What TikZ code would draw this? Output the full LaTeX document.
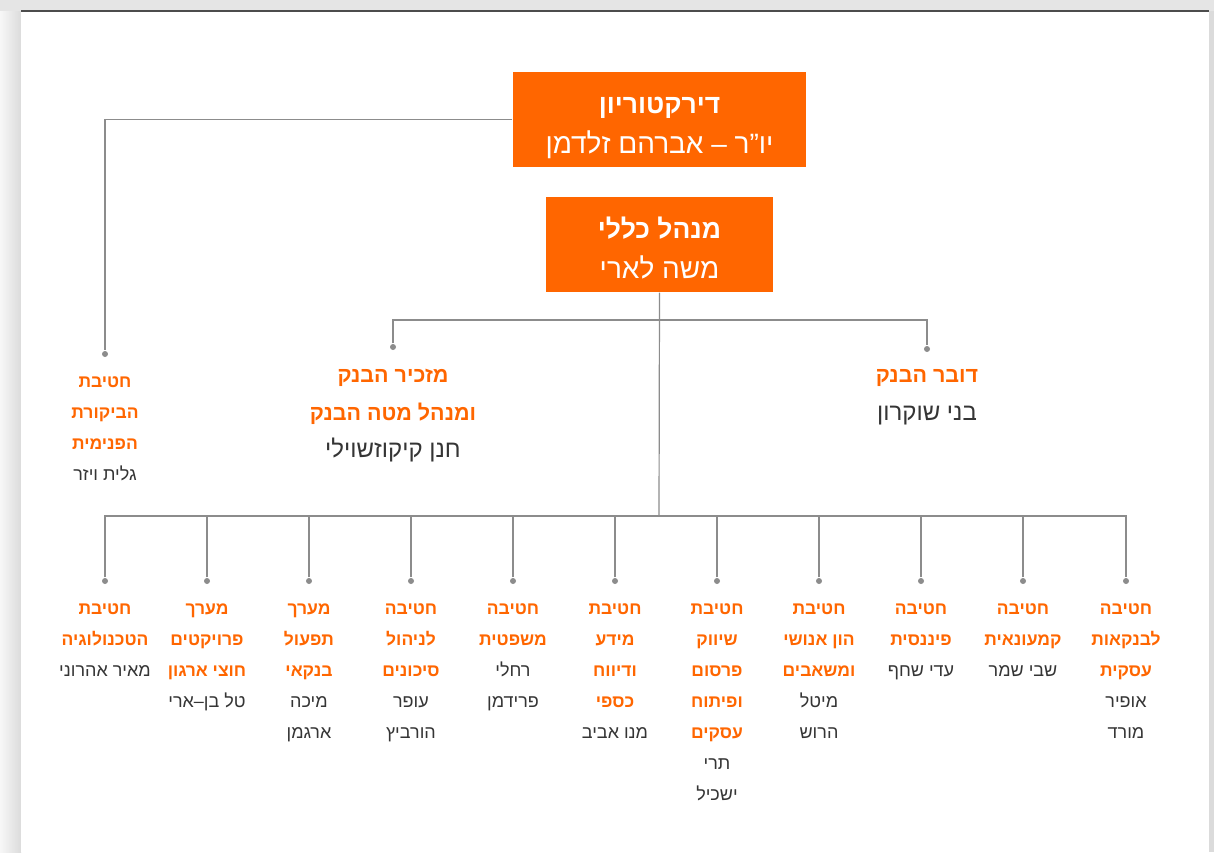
\documentclass[tikz,border=0pt]{standalone}
\usepackage{fontspec}
\usepackage{xcolor}
\usepackage{tikz}
\TeXXeTstate=1
\newfontfamily\hebfont[Script=Hebrew]{Liberation Sans}
\definecolor{bankorange}{HTML}{FF6600}
\definecolor{namegrey}{HTML}{353535}
\definecolor{linegrey}{HTML}{8C8C8C}
\newcommand{\heb}[1]{\beginR #1\endR}
\newcommand{\org}[1]{{\color{bankorange}\bfseries\strut\heb{#1}}}
\newcommand{\gry}[2][18]{{\color{namegrey}\fontsize{#1}{\baselineskip}\selectfont\strut\heb{#2}}}
\newcommand{\boxfont}{\hebfont\fontsize{26.5}{40}\selectfont}
\newcommand{\midfont}{\hebfont\fontsize{21.5}{37.5}\selectfont}
\newcommand{\unitfont}{\hebfont\fontsize{17.5}{31}\selectfont}
\newcommand{\unittop}{592.3}

\begin{document}
\begin{tikzpicture}[x=1pt,y=-1pt,line width=1.2pt]
			\useasboundingbox (0,0) rectangle (1214,852);
			% page
			\fill[black!10] (0,0) rectangle (1214,852);
			\shade[left color=black!3,right color=black!14] (0,11) rectangle (21,852);
			\fill[black!14] (1209,11) rectangle (1214,852);
			\fill[white] (21,11) rectangle (1209,852);
			\draw[line width=2pt,black!70] (21,10.5) -- (1209,10.5);
			\begin{scope}
			\tikzstyle{topbox}=[fill=bankorange,text=white,align=center,inner sep=0,minimum height=95,text depth=0pt,font=\boxfont]
			\tikzstyle{dot}=[circle,fill=linegrey,inner sep=0,minimum size=6]
			\tikzstyle{unit}=[align=center,anchor=north,inner sep=0,font=\unitfont]
			\tikzstyle{link}=[draw=linegrey]
			% top boxes
			\node[topbox,minimum width=293] (board) at (659.5,119.5) {\rule{0pt}{27pt}{\bfseries\heb{דירקטוריון}}\\{\fontsize{28}{40}\selectfont\heb{יו”ר – אברהם זלדמן}}};
			\node[topbox,minimum width=227] (ceo) at (659.5,244.5) {\rule{0pt}{27pt}{\bfseries\heb{מנהל כללי}}\\{\fontsize{28}{40}\selectfont\heb{משה לארי}}};
			% middle row
			\node[dot] (d_audit) at (105,354) {};
			\node[dot] (d_sec) at (393,347) {};
			\node[dot] (d_spk) at (927,349) {};
			\node[unit] (audit) at (105,365.3) {\org{חטיבת}\\\org{הביקורת}\\\org{הפנימית}\\\gry{גלית ויזר}};
			\node[unit,font=\midfont] (sec) at (393,355.75) {\org{מזכיר הבנק}\\\org{ומנהל מטה הבנק}\\\gry[24]{חנן קיקוזשוילי}};
			\node[unit,font=\midfont] (spk) at (927,355.75) {\org{דובר הבנק}\\\gry[24]{בני שוקרון}};
			\coordinate (staff) at (659,320);
			\coordinate (bus) at (659,516);
			% bottom row
			\node[dot] (d_tech) at (105,581) {};
			\node[dot] (d_proj) at (207,581) {};
			\node[dot] (d_ops) at (309,581) {};
			\node[dot] (d_risk) at (411,581) {};
			\node[dot] (d_legal) at (513,581) {};
			\node[dot] (d_info) at (615,581) {};
			\node[dot] (d_mkt) at (717,581) {};
			\node[dot] (d_hr) at (819,581) {};
			\node[dot] (d_fin) at (921,581) {};
			\node[dot] (d_retail) at (1023,581) {};
			\node[dot] (d_biz) at (1126,581) {};
			\node[unit] (tech) at (105,\unittop) {\org{חטיבת}\\\org{הטכנולוגיה}\\\gry{מאיר אהרוני}};
			\node[unit] (proj) at (207,\unittop) {\org{מערך}\\\org{פרויקטים}\\\org{חוצי ארגון}\\\gry{טל בן–ארי}};
			\node[unit] (ops) at (309,\unittop) {\org{מערך}\\\org{תפעול}\\\org{בנקאי}\\\gry{מיכה}\\\gry{ארגמן}};
			\node[unit] (risk) at (411,\unittop) {\org{חטיבה}\\\org{לניהול}\\\org{סיכונים}\\\gry{עופר}\\\gry{הורביץ}};
			\node[unit] (legal) at (513,\unittop) {\org{חטיבה}\\\org{משפטית}\\\gry{רחלי}\\\gry{פרידמן}};
			\node[unit] (info) at (615,\unittop) {\org{חטיבת}\\\org{מידע}\\\org{ודיווח}\\\org{כספי}\\\gry{מנו אביב}};
			\node[unit] (mkt) at (717,\unittop) {\org{חטיבת}\\\org{שיווק}\\\org{פרסום}\\\org{ופיתוח}\\\org{עסקים}\\\gry{תרי}\\\gry{ישכיל}};
			\node[unit] (hr) at (819,\unittop) {\org{חטיבת}\\\org{הון אנושי}\\\org{ומשאבים}\\\gry{מיטל}\\\gry{הרוש}};
			\node[unit] (fin) at (921,\unittop) {\org{חטיבה}\\\org{פיננסית}\\\gry{עדי שחף}};
			\node[unit] (retail) at (1023,\unittop) {\org{חטיבה}\\\org{קמעונאית}\\\gry{שבי שמר}};
			\node[unit] (biz) at (1126,\unittop) {\org{חטיבה}\\\org{לבנקאות}\\\org{עסקית}\\\gry{אופיר}\\\gry{מורד}};
			% connectors
			\draw [link] (board.west) -| (d_audit);
			\draw [link] (ceo.south) -- (bus);
			\draw [link] (d_sec) |- (staff) -| (d_spk);
			\draw [link] (d_tech) |- (bus) -| (d_biz);
			\draw [link] (d_proj) -- (d_proj |- bus);
			\draw [link] (d_ops) -- (d_ops |- bus);
			\draw [link] (d_risk) -- (d_risk |- bus);
			\draw [link] (d_legal) -- (d_legal |- bus);
			\draw [link] (d_info) -- (d_info |- bus);
			\draw [link] (d_mkt) -- (d_mkt |- bus);
			\draw [link] (d_hr) -- (d_hr |- bus);
			\draw [link] (d_fin) -- (d_fin |- bus);
			\draw [link] (d_retail) -- (d_retail |- bus);
			\end{scope}
		\end{tikzpicture}
\end{document}
